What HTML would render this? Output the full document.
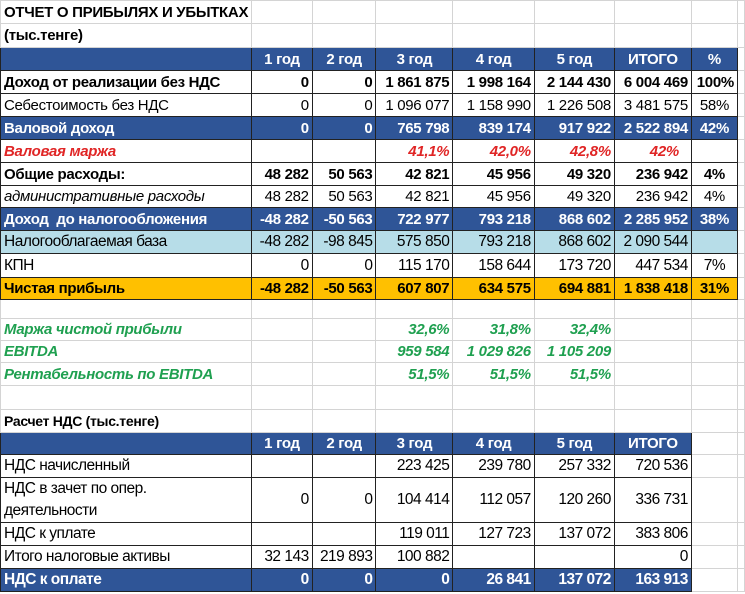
<!DOCTYPE html>
<html><head><meta charset="utf-8"><style>
body{margin:0;width:745px;height:594px;overflow:hidden;background:#fff;font-family:"Liberation Sans",sans-serif;}
table{border-collapse:collapse;table-layout:fixed;position:absolute;left:0;top:0;}
td{border:1px solid #d4d4d4;padding:0 3px;font-size:15px;white-space:nowrap;overflow:hidden;text-align:right;color:#000;letter-spacing:-0.3px;}
td:first-child{text-align:left;}
.t td{border-color:#222;}
.n td{border-color:#d4d4d4;}
.blue td{background:#2f5597;color:#fff;font-weight:bold;}
.hd td{text-align:center;}
.b td{font-weight:bold;}
.i td{font-style:italic;}
.red td{color:#e02525;font-weight:bold;font-style:italic;}
.lb td{background:#b7dde8;}
.y td{background:#ffc000;font-weight:bold;}
.g td{color:#1fa050;font-weight:bold;font-style:italic;}
.c td{letter-spacing:-0.5px;font-size:15.5px;}
td.nb{border-color:#d4d4d4;}
</style></head><body>
<table>
<colgroup><col style="width:233px"><col style="width:63px"><col style="width:66px"><col style="width:80px"><col style="width:87px"><col style="width:85px"><col style="width:80px"><col style="width:47px"><col style="width:4px"></colgroup>
<tr class="n b" style="height:23px"><td style="font-size:15px">ОТЧЕТ О ПРИБЫЛЯХ И УБЫТКАХ</td><td></td><td></td><td></td><td></td><td></td><td></td><td></td><td></td></tr>
<tr class="n b" style="height:24px"><td style="font-size:15px">(тыс.тенге)</td><td></td><td></td><td></td><td></td><td></td><td></td><td></td><td></td></tr>
<tr class="t blue hd" style="height:23px"><td></td><td>1 год</td><td>2 год</td><td>3 год</td><td>4 год</td><td>5 год</td><td>ИТОГО</td><td>%</td><td class="nb" style="background:#fff"></td></tr>
<tr class="t b" style="height:23px"><td>Доход от реализации без НДС</td><td>0</td><td>0</td><td>1 861 875</td><td>1 998 164</td><td>2 144 430</td><td>6 004 469</td><td>100%</td><td class="nb"></td></tr>
<tr class="t" style="height:23px"><td>Себестоимость без НДС</td><td>0</td><td>0</td><td>1 096 077</td><td>1 158 990</td><td>1 226 508</td><td>3 481 575</td><td style="text-align:center">58%</td><td class="nb"></td></tr>
<tr class="t blue" style="height:23px"><td>Валовой доход</td><td>0</td><td>0</td><td>765 798</td><td>839 174</td><td>917 922</td><td>2 522 894</td><td style="text-align:center">42%</td><td class="nb" style="background:#fff"></td></tr>
<tr class="t red" style="height:23px"><td>Валовая маржа</td><td></td><td></td><td>41,1%</td><td>42,0%</td><td>42,8%</td><td style="padding-right:12px">42%</td><td></td><td class="nb"></td></tr>
<tr class="t b" style="height:23px"><td>Общие расходы:</td><td>48 282</td><td>50 563</td><td>42 821</td><td>45 956</td><td>49 320</td><td>236 942</td><td style="text-align:center">4%</td><td class="nb"></td></tr>
<tr class="t i" style="height:22px"><td>административные расходы</td><td style="font-style:normal">48 282</td><td style="font-style:normal">50 563</td><td style="font-style:normal">42 821</td><td style="font-style:normal">45 956</td><td style="font-style:normal">49 320</td><td style="font-style:normal">236 942</td><td style="text-align:center;font-style:normal">4%</td><td class="nb"></td></tr>
<tr class="t blue" style="height:23px"><td>Доход&nbsp; до налогообложения</td><td>-48 282</td><td>-50 563</td><td>722 977</td><td>793 218</td><td>868 602</td><td>2 285 952</td><td style="text-align:center">38%</td><td class="nb" style="background:#fff"></td></tr>
<tr class="t lb c" style="height:23px"><td>Налогооблагаемая база</td><td>-48 282</td><td>-98 845</td><td>575 850</td><td>793 218</td><td>868 602</td><td>2 090 544</td><td></td><td class="nb" style="background:#fff"></td></tr>
<tr class="t c" style="height:24px"><td>КПН</td><td>0</td><td>0</td><td>115 170</td><td>158 644</td><td>173 720</td><td>447 534</td><td style="text-align:center">7%</td><td class="nb"></td></tr>
<tr class="t y" style="height:22px"><td>Чистая прибыль</td><td>-48 282</td><td>-50 563</td><td>607 807</td><td>634 575</td><td>694 881</td><td>1 838 418</td><td style="text-align:center">31%</td><td class="nb" style="background:#fff"></td></tr>
<tr class="n" style="height:19px"><td></td><td></td><td></td><td></td><td></td><td></td><td></td><td></td><td></td></tr>
<tr class="n g" style="height:22px"><td>Маржа чистой прибыли</td><td></td><td></td><td>32,6%</td><td>31,8%</td><td>32,4%</td><td></td><td></td><td></td></tr>
<tr class="n g" style="height:22px"><td>EBITDA</td><td></td><td></td><td>959 584</td><td>1 029 826</td><td>1 105 209</td><td></td><td></td><td></td></tr>
<tr class="n g" style="height:23px"><td>Рентабельность по EBITDA</td><td></td><td></td><td>51,5%</td><td>51,5%</td><td>51,5%</td><td></td><td></td><td></td></tr>
<tr class="n" style="height:24px"><td></td><td></td><td></td><td></td><td></td><td></td><td></td><td></td><td></td></tr>
<tr class="n b" style="height:23px"><td style="font-size:14px">Расчет НДС (тыс.тенге)</td><td></td><td></td><td></td><td></td><td></td><td></td><td></td><td></td></tr>
<tr class="t blue hd" style="height:22px"><td></td><td>1 год</td><td>2 год</td><td>3 год</td><td>4 год</td><td>5 год</td><td>ИТОГО</td><td class="nb" style="background:#fff"></td><td class="nb" style="background:#fff"></td></tr>
<tr class="t c" style="height:23px"><td>НДС начисленный</td><td></td><td></td><td>223 425</td><td>239 780</td><td>257 332</td><td>720 536</td><td class="nb"></td><td class="nb"></td></tr>
<tr class="t c" style="height:45px"><td style="line-height:22px">НДС в зачет по опер.<br>деятельности</td><td>0</td><td>0</td><td>104 414</td><td>112 057</td><td>120 260</td><td>336 731</td><td class="nb"></td><td class="nb"></td></tr>
<tr class="t c" style="height:23px"><td>НДС к уплате</td><td></td><td></td><td>119 011</td><td>127 723</td><td>137 072</td><td>383 806</td><td class="nb"></td><td class="nb"></td></tr>
<tr class="t c" style="height:23px"><td>Итого налоговые активы</td><td>32 143</td><td>219 893</td><td>100 882</td><td></td><td></td><td>0</td><td class="nb"></td><td class="nb"></td></tr>
<tr class="t blue c" style="height:23px"><td>НДС к оплате</td><td>0</td><td>0</td><td>0</td><td>26 841</td><td>137 072</td><td>163 913</td><td class="nb" style="background:#fff"></td><td class="nb" style="background:#fff"></td></tr>
</table>
</body></html>
